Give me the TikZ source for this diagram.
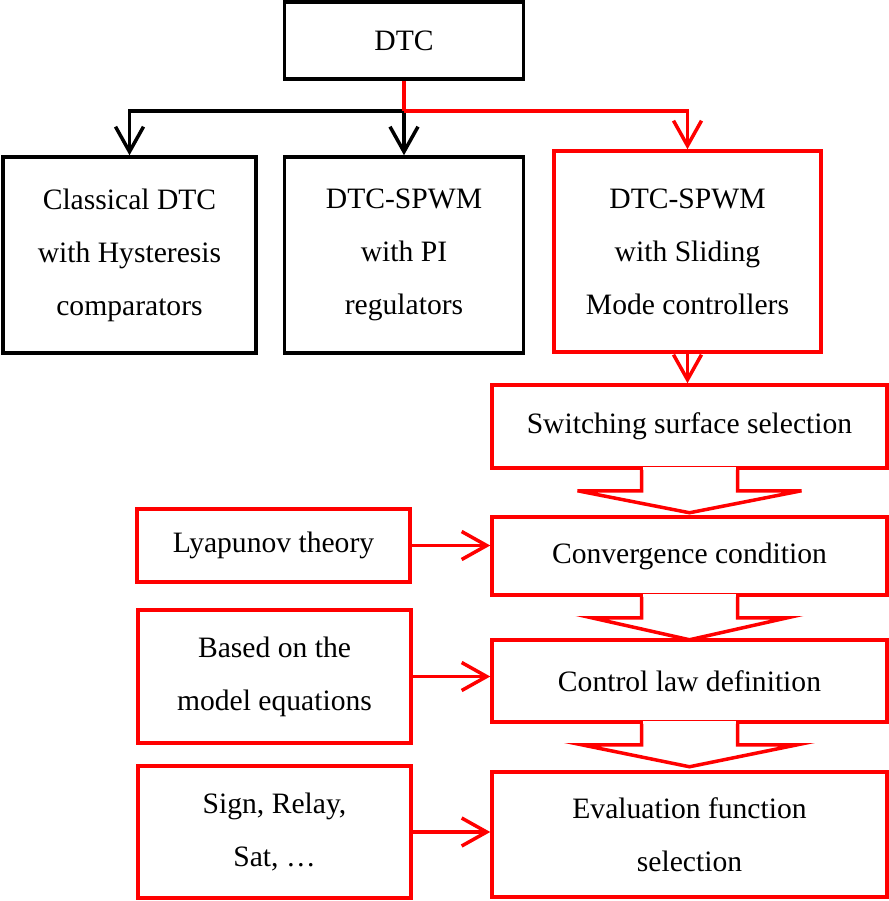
\documentclass[tikz,border=0pt]{standalone}
\usepackage{fontspec}
\setmainfont{Liberation Serif}
\usetikzlibrary{arrows.meta, calc}

% chevron under a box: node name, outer half width
\newcommand{\chevron}[2]{%
    \fill[white] ($(#1.south)+(-46.2,-2.5)$) rectangle ($(#1.south)+(46.2,3)$);
    \draw[redline, line join=miter] ($(#1.south)+(-48,0)$) -- ($(#1.south)+(-48,21)$) -- ($(#1.south)+(-#2,21)$)
        -- ($(#1.south)+(0,43)$) -- ($(#1.south)+(#2,21)$) -- ($(#1.south)+(48,21)$) -- ($(#1.south)+(48,0)$);
}

\tikzset{
    blkbox/.style={draw=black, line width=1.75pt, align=center, inner sep=0pt,
        font=\fontsize{14.8}{26.5}\selectfont},
    redbox/.style={blkbox, draw=red},
    blkline/.style={draw=black, line width=1.75pt},
    redline/.style={draw=red, line width=1.75pt},
    barb/.style={-{Straight Barb[length=12.5pt, width=14pt]}}
}

\begin{document}
\begin{tikzpicture}[x=0.5pt, y=-0.5pt]
    \useasboundingbox (0,0) rectangle (889,901);

    % Top: DTC
    \node[blkbox, minimum width=119.5pt, minimum height=38.5pt] (dtc) at (404,40.5) {DTC};

    % The three families
    \node[blkbox, minimum width=126.5pt, minimum height=98pt] (classic) at (129.5,255) {Classical DTC\\with Hysteresis\\comparators};
    \node[blkbox, minimum width=119.5pt, minimum height=98pt] (spwmpi) at (404,255) {DTC-SPWM\\with PI\\regulators};
    \node[redbox, minimum width=133.5pt, minimum height=100.5pt] (spwmsm) at (687.5,251.5) {DTC-SPWM\\with Sliding\\Mode controllers};

    % Sliding mode design steps
    \node[redbox, minimum width=197.5pt, minimum height=41.5pt] (surface) at (689.5,426.5) {Switching surface selection};
    \node[redbox, minimum width=197.5pt, minimum height=39pt] (converge) at (689.5,556) {Convergence condition};
    \node[redbox, minimum width=197.5pt, minimum height=41pt] (ctrllaw) at (689.5,681) {Control law definition};
    \node[redbox, minimum width=197.5pt, minimum height=62.5pt] (evalfn) at (689.5,834.5) {Evaluation function\\selection};

    % Inputs on the left
    \node[redbox, minimum width=136.5pt, minimum height=36.5pt] (lyap) at (273.5,545.5) {Lyapunov theory};
    \node[redbox, minimum width=136.5pt, minimum height=66.5pt] (model) at (274.5,676.5) {Based on the\\model equations};
    \node[redbox, minimum width=136.5pt, minimum height=66pt] (signs) at (274.5,832) {Sign, Relay,\\Sat, …};

    % Branching under DTC
    \coordinate (split) at ($(dtc.south)+(0,30)$);
    \draw[blkline, barb] (split) -| (classic.north);
    \draw[blkline, barb] (split) -- (spwmpi.north);
    \draw[redline] (dtc.south) -- (split);
    \draw[redline, barb] (split) -| (spwmsm.north);

    % Down the red column
    \draw[redline, barb] (spwmsm.south) -- (spwmsm.south |- surface.north);
    \chevron{surface}{112}
    \chevron{converge}{98}
    \chevron{ctrllaw}{108}

    % Left inputs into the steps
    \draw[redline, barb] (lyap.east) -- (lyap.east -| converge.west);
    \draw[redline, barb] (model.east) -- (model.east -| ctrllaw.west);
    \draw[redline, barb] (signs.east) -- (signs.east -| evalfn.west);
\end{tikzpicture}
\end{document}
